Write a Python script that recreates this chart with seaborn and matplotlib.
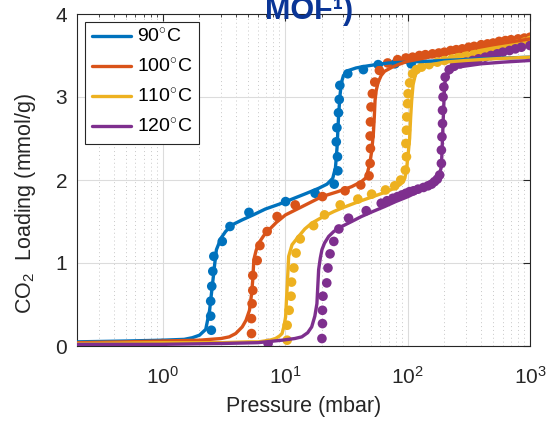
import numpy as np
import pandas as pd
import matplotlib
matplotlib.use("Agg")
import matplotlib.pyplot as plt
from matplotlib.ticker import LogLocator, NullFormatter
import seaborn as sns

# ---------------- data ----------------
labels = ["90$^{\\circ}$C", "100$^{\\circ}$C", "110$^{\\circ}$C", "120$^{\\circ}$C"]
colors = ["#0072BD", "#D95319", "#EDB120", "#7E2F8E"]

# experimental points (pressure mbar, loading mmol/g)
p90 = [1.0, 2.50, 2.47, 2.47, 2.52, 2.57, 2.62, 3.07, 3.55, 5.07, 10.1, 17.6, 25.2, 27.0, 26.8,
       26.2, 26.5, 27.3, 27.7, 28.0, 32.5, 43.6, 57.6, 79.0, 107.0]
q90 = [0.02, 0.19, 0.36, 0.54, 0.72, 0.90, 1.08, 1.26, 1.44, 1.61, 1.74, 1.84, 1.95, 2.11, 2.28,
       2.46, 2.63, 2.81, 2.97, 3.14, 3.28, 3.33, 3.39, 3.40, 3.40]

p100 = [0.5, 1.0, 5.32, 5.32, 5.38, 5.45, 5.45, 5.92, 6.23, 7.14, 8.61, 12.1, 20.2, 30.9, 41.5,
        48.5, 49.5, 49.8, 49.5, 49.8, 50.3, 51.6, 54.0, 58.9, 68.8, 83.0, 97.0, 110, 125, 140,
        160, 180, 200, 225, 250, 280, 316, 350, 400, 450, 500, 560, 630, 700, 800, 900, 1000]
q100 = [0.01, 0.03, 0.15, 0.33, 0.51, 0.67, 0.85, 1.03, 1.21, 1.38, 1.56, 1.70, 1.80, 1.87, 1.94,
        2.05, 2.20, 2.38, 2.53, 2.70, 2.88, 3.04, 3.18, 3.32, 3.41, 3.45, 3.47, 3.48, 3.50, 3.51,
        3.52, 3.53, 3.54, 3.56, 3.57, 3.58, 3.60, 3.61, 3.63, 3.64, 3.65, 3.67, 3.68, 3.69, 3.70, 3.71, 3.72]

p110 = [10.4, 10.4, 10.8, 11.2, 11.3, 11.8, 12.3, 13.3, 17.1, 21.0, 28.2, 39.3, 50.9, 66.1, 78.6,
        88.0, 96.0, 98.0, 97.0, 98.0, 98.5, 100, 101, 104, 110, 118, 130, 150, 175, 200, 230, 260,
        300, 350, 400, 450, 500, 560, 630, 700, 800, 900, 1000]
q110 = [0.07, 0.25, 0.43, 0.60, 0.77, 0.94, 1.12, 1.29, 1.45, 1.58, 1.70, 1.77, 1.83, 1.88, 1.93,
        2.00, 2.12, 2.28, 2.44, 2.60, 2.76, 2.92, 3.04, 3.17, 3.28, 3.33, 3.36, 3.39, 3.42, 3.44, 3.46, 3.48,
        3.50, 3.52, 3.54, 3.56, 3.57, 3.59, 3.61, 3.62, 3.64, 3.66, 3.68]

p120 = [7.27, 20.0, 20.2, 20.2, 20.4, 21.9, 22.4, 23.3, 25.0, 27.5, 33.0, 46.0, 61.0, 68.0, 76.0,
        83.0, 90.0, 97.0, 104, 112, 122, 135, 147, 157, 166, 175, 183, 189, 189, 191, 193, 193, 195,
        198, 203, 219, 240, 270, 300, 340, 380, 430, 480, 540, 600, 680, 760, 850, 1000]
q120 = [0.03, 0.09, 0.27, 0.43, 0.60, 0.76, 0.94, 1.11, 1.26, 1.41, 1.54, 1.63, 1.72, 1.75, 1.78,
        1.80, 1.82, 1.84, 1.86, 1.87, 1.89, 1.91, 1.93, 1.95, 1.98, 2.01, 2.06, 2.20, 2.36, 2.52, 2.68, 2.84, 3.00,
        3.12, 3.24, 3.33, 3.37, 3.40, 3.42, 3.44, 3.46, 3.48, 3.50, 3.52, 3.54, 3.56, 3.58, 3.60, 3.62]

# fitted model curves
fp90 = [0.2, 0.5, 1, 1.5, 1.75, 2.0, 2.25, 2.42, 2.5, 2.58, 2.66, 2.75, 3.0, 3.27, 3.7, 4.47, 5.5,
        6.9, 9, 11.4, 15, 18.8, 22, 24.5, 25.8, 26.6, 27.3, 28.0, 28.8, 30, 33, 38, 45, 55, 70, 100,
        200, 400, 1000]
fq90 = [0.05, 0.06, 0.07, 0.08, 0.10, 0.13, 0.20, 0.43, 0.62, 0.80, 0.98, 1.16, 1.30, 1.38, 1.46,
        1.52, 1.58, 1.65, 1.71, 1.77, 1.84, 1.90, 1.95, 2.02, 2.15, 2.40, 2.75, 3.00, 3.17, 3.26, 3.32,
        3.35, 3.37, 3.39, 3.41, 3.42, 3.44, 3.46, 3.48]

fp100 = [0.2, 0.5, 1, 2, 3, 3.5, 3.95, 4.47, 4.8, 5.12, 5.32, 5.45, 5.56, 5.8, 6.1, 6.7, 7.4, 8.5,
         10.1, 13.8, 20, 27, 35, 42, 46, 49.2, 51, 52.6, 53.5, 54.3, 55.5, 57.6, 61, 65, 75, 84, 100,
         150, 200, 300, 500, 1000]
fq100 = [0.04, 0.05, 0.06, 0.07, 0.09, 0.11, 0.15, 0.23, 0.31, 0.43, 0.62, 0.80, 1.04, 1.15, 1.24,
         1.33, 1.40, 1.49, 1.58, 1.68, 1.80, 1.86, 1.92, 1.98, 2.03, 2.20, 2.35, 2.56, 2.75, 2.96, 3.08,
         3.18, 3.26, 3.31, 3.36, 3.39, 3.43, 3.48, 3.52, 3.57, 3.63, 3.70]

fp110 = [0.2, 1, 3, 5, 6.1, 7.5, 8.35, 9, 9.45, 9.8, 10.1, 10.4, 10.7, 11.4, 12.9, 14.5, 16.5, 20,
         25, 30, 40, 50, 65, 78, 88, 95, 98, 101, 104, 106, 108, 111, 116, 122, 135, 157, 200, 300,
         500, 1000]
fq110 = [0.03, 0.04, 0.04, 0.05, 0.05, 0.07, 0.09, 0.12, 0.15, 0.24, 0.35, 0.71, 1.08, 1.22, 1.32,
         1.41, 1.48, 1.55, 1.62, 1.67, 1.74, 1.79, 1.85, 1.90, 1.95, 2.02, 2.12, 2.30, 2.50, 2.75, 2.95,
         3.15, 3.27, 3.33, 3.37, 3.39, 3.42, 3.44, 3.46, 3.48]

fp120 = [0.2, 1, 3, 6, 9.45, 12, 13.7, 15.3, 16.5, 17.5, 18.2, 18.8, 19.4, 20, 21, 22.7, 25, 29, 35,
         42, 52, 65, 80, 101, 130, 150, 172, 183, 189, 193, 197, 201, 207, 214, 235, 257, 320, 400,
         600, 1000]
fq120 = [0.02, 0.02, 0.03, 0.04, 0.07, 0.09, 0.11, 0.16, 0.23, 0.36, 0.51, 0.92, 1.06, 1.16, 1.24,
         1.32, 1.38, 1.44, 1.50, 1.56, 1.62, 1.68, 1.74, 1.80, 1.88, 1.93, 2.00, 2.08, 2.16, 2.50, 2.85,
         3.16, 3.24, 3.28, 3.33, 3.36, 3.38, 3.40, 3.42, 3.44]

exp_p = [p90, p100, p110, p120]
exp_q = [q90, q100, q110, q120]
fit_p = [fp90, fp100, fp110, fp120]
fit_q = [fq90, fq100, fq110, fq120]

exp_df = pd.concat([pd.DataFrame({"P": p, "q": q, "T": lab})
                    for p, q, lab in zip(exp_p, exp_q, labels)], ignore_index=True)
fit_df = pd.concat([pd.DataFrame({"P": p, "q": q, "T": lab})
                    for p, q, lab in zip(fit_p, fit_q, labels)], ignore_index=True)

# ---------------- style ----------------
sns.set_style("white")
plt.rcParams["font.family"] = ["Liberation Sans", "DejaVu Sans"]
plt.rcParams["mathtext.fontset"] = "custom"
plt.rcParams["mathtext.rm"] = "Liberation Sans"
plt.rcParams["mathtext.it"] = "Liberation Sans:italic"
plt.rcParams["mathtext.bf"] = "Liberation Sans:bold"

fig = plt.figure(figsize=(5.47, 4.22), dpi=100)
ax = fig.add_axes([77 / 547, 1 - 346 / 422, (530 - 77) / 547, (346 - 14) / 422])

palette = dict(zip(labels, colors))
sns.scatterplot(data=exp_df, x="P", y="q", hue="T", palette=palette, s=48,
                edgecolor="none", legend=False, ax=ax, zorder=3)
sns.lineplot(data=fit_df, x="P", y="q", hue="T", palette=palette, estimator=None,
             sort=False, linewidth=2.4, ax=ax, zorder=4)

ax.set_xscale("log")
ax.set_xlim(0.2, 1000)
ax.set_ylim(0, 4)
ax.set_yticks([0, 1, 2, 3, 4])
ax.xaxis.set_major_locator(LogLocator(base=10, numticks=10))
ax.xaxis.set_minor_locator(LogLocator(base=10, subs=np.arange(2, 10), numticks=100))
ax.xaxis.set_minor_formatter(NullFormatter())

ax.grid(which="major", color="#dcdcdc", linewidth=0.8, linestyle="-")
ax.xaxis.grid(which="minor", color="#c8c8c8", linewidth=0.7, linestyle=(0, (1, 3)))
ax.set_axisbelow(True)

tc = "#262626"
for s in ax.spines.values():
    s.set_color(tc)
    s.set_linewidth(0.8)
ax.tick_params(which="both", direction="in", top=True, right=True, colors=tc,
               labelsize=15, labelcolor=tc)
ax.tick_params(which="major", length=5)
ax.tick_params(which="minor", length=2.5)
ax.tick_params(axis="x", pad=14)
ax.tick_params(axis="y", pad=7)

ax.set_xlabel("Pressure (mbar)", fontsize=15.5, color=tc, labelpad=6)
ax.set_ylabel("CO$_2$  Loading (mmol/g)", fontsize=15.5, color=tc, labelpad=10)
ax.yaxis.set_label_coords(-0.085, 0.43)

leg = ax.legend(loc="upper left", bbox_to_anchor=(0.018, 0.976), fontsize=14,
                frameon=True, fancybox=False, edgecolor=tc, framealpha=1,
                handlelength=2.0, handletextpad=0.3, labelspacing=0.6,
                borderpad=0.35, borderaxespad=0.0)
leg.get_frame().set_linewidth(0.8)
for t in leg.get_texts():
    t.set_color("black")

fig.text(309 / 547, 1 - 19 / 422, "MOF\u00b9)", fontsize=22, fontweight="bold",
         color="#0a3596", ha="center", va="baseline")

fig.savefig("out.png", dpi=100)
